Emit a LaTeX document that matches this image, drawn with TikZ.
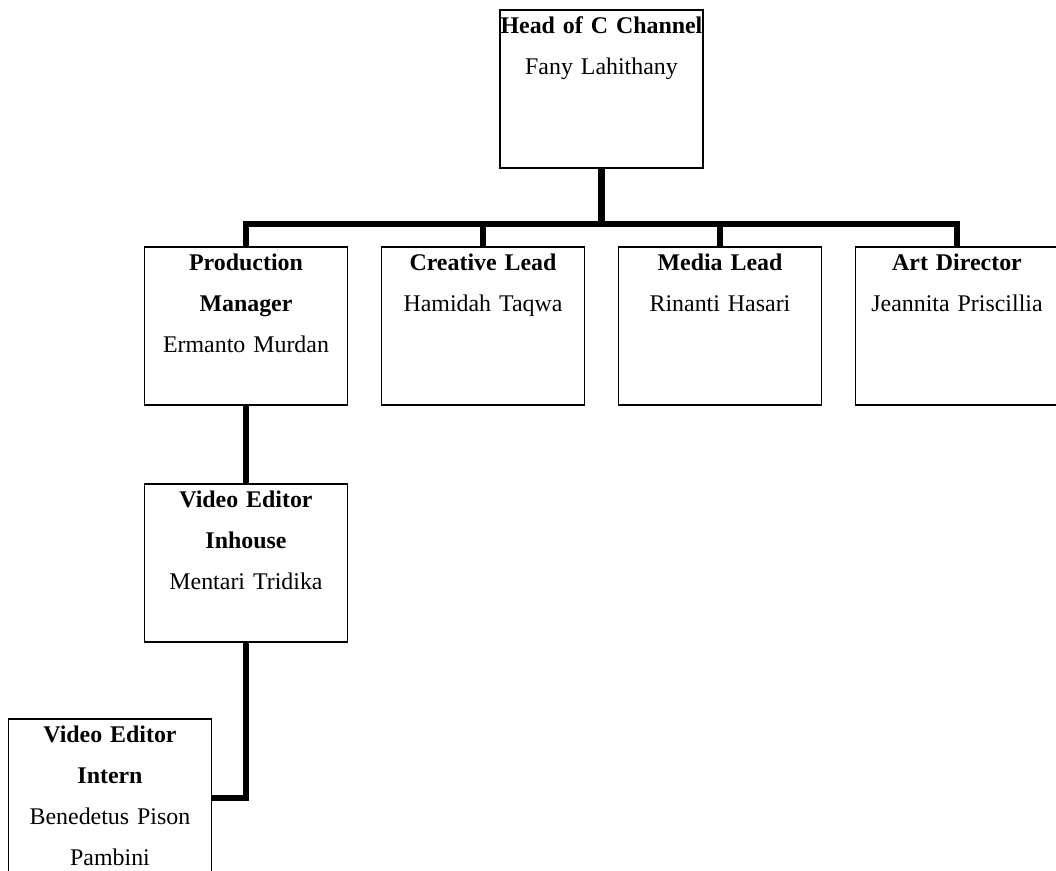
\documentclass[tikz,border=0pt]{standalone}
\usepackage{fontspec}
\setmainfont{Liberation Serif}
\usepackage{tikz}

\begin{document}
\begin{tikzpicture}[level distance=5.925cm,
    level 1/.style={sibling distance=5.925cm},
    post/.style={draw, line width=1pt, inner sep=0pt, text width=5.075cm,
      align=center, text height=16.7pt, text depth=95.7pt,
      font=\fontsize{17pt}{29.2pt}\selectfont},
    edge from parent/.style={draw, line width=4.3pt},
    edge from parent path={(\tikzparentnode.south) -- ++(0,-1.375cm) -| (\tikzchildnode.north)}
    ]
    \useasboundingbox (0,0) rectangle (26.4,-21.75);
    \node[post] (head) at (15.0375,-2.225) {\textbf{Head of C Channel}\\Fany Lahithany}
      child {node[post] (prod) {\textbf{Production}\\\textbf{Manager}\\Ermanto Murdan}
        child {node[post] (inhouse) {\textbf{Video Editor}\\\textbf{Inhouse}\\Mentari Tridika}
          child[edge from parent path={(\tikzparentnode.south) |- (\tikzchildnode.east)}]
            {node[post, xshift=-3.4cm, yshift=0.05cm] (intern) {\textbf{Video Editor}\\\textbf{Intern}\\Benedetus Pison\\Pambini}}
        }
      }
      child {node[post] (creative) {\textbf{Creative Lead}\\Hamidah Taqwa}}
      child {node[post] (media) {\textbf{Media Lead}\\Rinanti Hasari}}
      child {node[post] (art) {\textbf{Art Director}\\Jeannita Priscillia}};
  \end{tikzpicture}
\end{document}
